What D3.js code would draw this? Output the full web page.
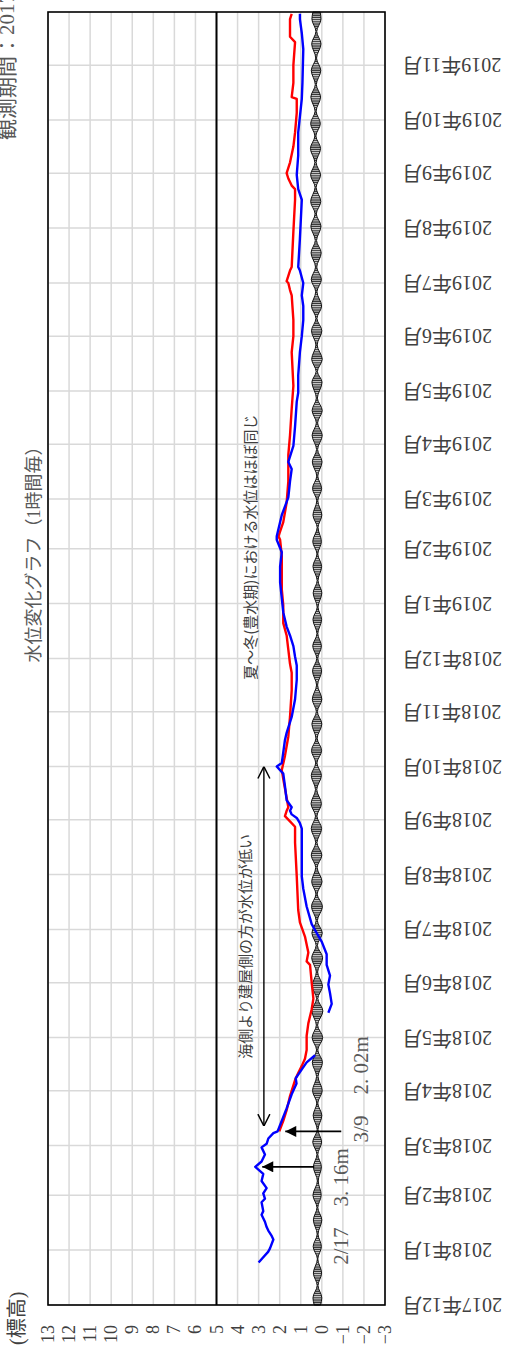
<!DOCTYPE html>
<html>
<head>
<meta charset="utf-8">
<script src="https://cdn.jsdelivr.net/npm/d3@7"></script>
<style>
  html, body { margin: 0; padding: 0; background: #fff; overflow: hidden; }
  svg { display: block; }
</style>
</head>
<body>
<svg id="chart" width="508" height="1349"></svg>
<script>
// ---- data ----------------------------------------------------------------
const monthTicks = ["2017-12-01","2018-01-01","2018-02-01","2018-03-01","2018-04-01","2018-05-01",
  "2018-06-01","2018-07-01","2018-08-01","2018-09-01","2018-10-01","2018-11-01","2018-12-01",
  "2019-01-01","2019-02-01","2019-03-01","2019-04-01","2019-05-01","2019-06-01","2019-07-01",
  "2019-08-01","2019-09-01","2019-10-01","2019-11-01"];
const monthLabels = ["2017年12月","2018年1月","2018年2月","2018年3月","2018年4月","2018年5月",
  "2018年6月","2018年7月","2018年8月","2018年9月","2018年10月","2018年11月","2018年12月",
  "2019年1月","2019年2月","2019年3月","2019年4月","2019年5月","2019年6月","2019年7月",
  "2019年8月","2019年9月","2019年10月","2019年11月"];
const levelTicks = [-3,-2,-1,0,1,2,3,4,5,6,7,8,9,10,11,12,13];
const levelLabels = ["−3","−2","−1","0","1","2","3","4","5","6","7","8","9","10","11","12","13"];
const periodStart = "2017-12-01", periodEnd = "2019-12-01";
const referenceLevel = 5;

// building-side well (blue)
const blueDates = ["2017-12-25","2017-12-28","2017-12-31","2018-01-02","2018-01-07","2018-01-09",
  "2018-01-12","2018-01-14","2018-01-17","2018-01-21","2018-01-23","2018-01-28","2018-01-30",
  "2018-02-02","2018-02-05","2018-02-09","2018-02-13","2018-02-17","2018-02-20","2018-02-24",
  "2018-02-28","2018-03-02","2018-03-05","2018-03-08","2018-03-09","2018-03-15","2018-03-22",
  "2018-03-30","2018-04-05","2018-04-08","2018-04-13","2018-04-17","2018-04-21","2018-05-01",
  "2018-05-15","2018-05-20","2018-05-26","2018-05-31","2018-06-05","2018-06-11","2018-06-17",
  "2018-06-24","2018-06-29","2018-07-04","2018-07-14","2018-07-24","2018-07-31","2018-08-08",
  "2018-08-19","2018-08-27","2018-08-30","2018-09-02","2018-09-04","2018-09-06","2018-09-08",
  "2018-09-12","2018-09-20","2018-09-27","2018-10-01","2018-10-03","2018-10-09","2018-10-16",
  "2018-10-20","2018-10-29","2018-11-08","2018-11-19","2018-11-27","2018-12-02","2018-12-08",
  "2018-12-14","2018-12-19","2018-12-27","2019-01-04","2019-01-13","2019-01-22","2019-01-30",
  "2019-02-06","2019-02-08","2019-02-20","2019-03-02","2019-03-11","2019-03-18","2019-03-22",
  "2019-03-31","2019-04-11","2019-04-25","2019-04-30","2019-05-10","2019-05-23","2019-06-01",
  "2019-06-10","2019-06-18","2019-06-24","2019-07-01","2019-07-08","2019-07-10","2019-07-26",
  "2019-08-17","2019-08-23","2019-08-31","2019-09-11","2019-09-24","2019-10-03","2019-10-13",
  "2019-10-22","2019-11-10","2019-11-19","2019-11-27","2019-11-30"];
const blueValues = [3.00,2.78,2.55,2.46,2.30,2.38,
  2.54,2.62,2.70,2.86,2.78,2.86,2.70,
  2.78,2.62,2.86,2.78,3.16,2.86,2.70,
  2.86,2.62,2.54,2.30,2.10,1.90,1.67,
  1.43,1.20,1.24,0.95,0.72,0.32,null,
  -0.31,-0.47,-0.39,-0.31,-0.39,-0.23,-0.23,
  0.00,0.24,0.48,0.72,0.88,0.95,0.95,
  0.95,0.95,1.04,1.19,1.43,1.51,1.43,
  1.67,1.75,1.83,2.14,1.90,1.83,1.75,
  1.67,1.43,1.27,1.19,1.19,1.27,1.35,
  1.51,1.67,1.83,1.90,1.98,1.98,1.90,
  2.14,2.14,1.90,1.59,1.51,1.43,1.59,
  1.35,1.27,1.19,1.12,1.12,1.04,0.95,
  0.88,0.88,0.95,0.88,1.04,1.12,1.04,
  0.95,1.12,1.19,1.12,1.12,1.04,0.95,
  0.92,0.88,0.95,1.04,1.04];

// sea-side well (red)
const redDates = ["2018-03-09","2018-03-15","2018-03-21","2018-03-29","2018-04-07","2018-04-11",
  "2018-04-15","2018-04-19","2018-04-24","2018-05-02","2018-05-09","2018-05-17","2018-05-23",
  "2018-06-01","2018-06-11","2018-06-13","2018-06-18","2018-06-27","2018-07-05","2018-07-12",
  "2018-07-31","2018-08-19","2018-08-28","2018-09-01","2018-09-03","2018-09-06","2018-09-08",
  "2018-09-24","2018-09-29","2018-10-07","2018-10-18","2018-10-29","2018-11-13","2018-11-23",
  "2018-11-28","2018-12-06","2018-12-14","2018-12-21","2018-12-31","2019-01-09","2019-01-19",
  "2019-01-28","2019-02-06","2019-02-08","2019-02-16","2019-02-27","2019-03-11","2019-03-26",
  "2019-04-06","2019-04-21","2019-05-04","2019-05-23","2019-06-01","2019-06-10","2019-06-24",
  "2019-06-27","2019-07-01","2019-07-02","2019-07-08","2019-07-10","2019-07-30","2019-08-17",
  "2019-08-23","2019-08-25","2019-08-29","2019-09-01","2019-09-07","2019-09-16","2019-09-24",
  "2019-10-05","2019-10-13","2019-10-14","2019-10-22","2019-11-01","2019-11-14","2019-11-17",
  "2019-11-27","2019-11-30"];
const redValues = [2.02,1.83,1.67,1.51,1.27,1.12,
  0.95,0.80,0.72,0.72,0.64,0.48,0.40,
  0.48,0.56,0.72,0.64,0.80,1.04,1.12,
  1.19,1.27,1.27,1.59,1.75,1.67,1.59,
  1.83,1.90,1.75,1.59,1.51,1.43,1.43,
  1.51,1.59,1.67,1.83,1.83,1.90,1.90,
  1.90,1.98,2.06,1.83,1.67,1.59,1.59,
  1.51,1.43,1.35,1.43,1.35,1.35,1.43,
  1.51,1.59,1.67,1.51,1.43,1.35,1.27,
  1.27,1.43,1.59,1.67,1.51,1.35,1.27,
  1.19,1.19,1.43,1.35,1.35,1.27,1.51,
  1.51,1.43];

// tide level (hourly swing shown as its low/high envelope, spring and neap tides)
const tideDates = ["2017-12-01","2017-12-05","2017-12-12","2017-12-19","2017-12-27",
  "2018-01-03","2018-01-10","2018-01-18","2018-01-25","2018-02-01","2018-02-09","2018-02-17","2018-02-24",
  "2018-03-03","2018-03-10","2018-03-18","2018-03-25","2018-04-01","2018-04-09","2018-04-17","2018-04-24",
  "2018-05-01","2018-05-08","2018-05-16","2018-05-23","2018-05-30","2018-06-07","2018-06-15","2018-06-22",
  "2018-06-29","2018-07-06","2018-07-14","2018-07-21","2018-07-28","2018-08-05","2018-08-12","2018-08-19",
  "2018-08-27","2018-09-03","2018-09-10","2018-09-18","2018-09-26","2018-10-03","2018-10-10","2018-10-17",
  "2018-10-25","2018-11-01","2018-11-08","2018-11-16","2018-11-24","2018-12-01","2018-12-08","2018-12-15",
  "2018-12-23","2018-12-30",
  "2019-01-07","2019-01-14","2019-01-22","2019-01-29","2019-02-05","2019-02-13","2019-02-20","2019-02-28",
  "2019-03-07","2019-03-14","2019-03-22","2019-03-29","2019-04-06","2019-04-13","2019-04-20","2019-04-27",
  "2019-05-06","2019-05-12","2019-05-19","2019-05-27","2019-06-04","2019-06-11","2019-06-18","2019-06-26",
  "2019-07-03","2019-07-10","2019-07-18","2019-07-25","2019-08-02","2019-08-09","2019-08-16","2019-08-24",
  "2019-08-31","2019-09-07","2019-09-15","2019-09-22","2019-09-29","2019-10-06","2019-10-14","2019-10-21",
  "2019-10-29","2019-11-05","2019-11-13","2019-11-20","2019-11-27","2019-12-01"];
const tideLow = [0.06,0.00,0.18,0.01,0.19,
  0.02,0.18,0.00,0.19,0.03,0.17,0.02,0.19,
  0.01,0.18,0.00,0.19,-0.02,0.18,-0.03,0.19,
  -0.04,0.20,-0.05,0.19,-0.03,0.20,-0.04,0.21,
  -0.02,0.21,-0.03,0.22,-0.01,0.22,0.00,0.23,
  0.01,0.23,0.02,0.24,0.02,0.23,0.01,0.22,
  0.00,0.21,0.00,0.20,0.01,0.19,0.02,0.19,
  0.01,0.18,
  0.00,0.18,0.01,0.19,0.02,0.18,0.00,0.19,
  0.01,0.19,-0.01,0.20,-0.02,0.20,-0.02,0.21,
  -0.01,0.21,-0.02,0.22,0.00,0.23,0.01,0.23,
  0.02,0.24,0.03,0.25,0.04,0.26,0.05,0.27,
  0.06,0.27,0.06,0.28,0.07,0.27,0.06,0.26,
  0.05,0.25,0.04,0.24,0.04,0.08];
const tideHigh = [0.36,0.42,0.22,0.40,0.21,
  0.41,0.22,0.40,0.23,0.42,0.21,0.40,0.23,
  0.43,0.22,0.41,0.24,0.44,0.25,0.45,0.25,
  0.46,0.26,0.47,0.25,0.46,0.26,0.48,0.27,
  0.47,0.27,0.49,0.28,0.48,0.29,0.50,0.29,
  0.50,0.30,0.51,0.30,0.50,0.29,0.49,0.28,
  0.47,0.26,0.45,0.25,0.44,0.24,0.43,0.23,
  0.42,0.22,
  0.41,0.22,0.42,0.23,0.43,0.22,0.42,0.24,
  0.44,0.24,0.45,0.25,0.46,0.26,0.46,0.26,
  0.47,0.27,0.48,0.28,0.49,0.28,0.49,0.29,
  0.50,0.30,0.51,0.31,0.52,0.32,0.53,0.32,
  0.53,0.33,0.54,0.33,0.53,0.32,0.52,0.31,
  0.50,0.29,0.48,0.28,0.47,0.42];

// callouts
const peakNote = { date: "2018-02-17", value: 3.16, text: "2/17　3. 16m" };
const startNote = { date: "2018-03-09", value: 2.02, text: "3/9　2. 02m" };
const spanStart = "2018-03-12", spanEnd = "2018-10-01", spanLevel = 2.75;
const spanText = "海側より建屋側の方が水位が低い";
const spanTextStart = "2018-04-19";
const sameText = "夏～冬(豊水期)における水位はほぼ同じ";
const sameTextStart = "2018-11-19";
const titleText = "水位変化グラフ（1時間毎）";
const periodText = "観測期間：2017年12月～2019年11月";
const unitText = "(標高)";

// ---- drawing ---------------------------------------------------------------
const parse = d3.timeParse("%Y-%m-%d");
const W = 1349, H = 508;                 // chart is laid out landscape, then turned
const plot = { left: 44, right: 1337, top: 48, bottom: 385 };
const serif = "'Liberation Serif','DejaVu Serif','Noto Sans CJK JP',serif";
const sans = "'Noto Sans CJK JP','Noto Sans',sans-serif";
const ink = "#404040";

const x = d3.scaleTime().domain([parse(periodStart), parse(periodEnd)]).range([plot.left, plot.right]);
const y = d3.scaleLinear().domain([-3, 13]).range([plot.bottom, plot.top]);

const svg = d3.select("#chart");
const defs = svg.append("defs");
const hatch = defs.append("pattern").attr("id", "hatch")
  .attr("patternUnits", "userSpaceOnUse").attr("width", 2.2).attr("height", 8);
hatch.append("rect").attr("width", 2.2).attr("height", 8).attr("fill", "#d4d4d4");
hatch.append("line").attr("x1", 0.6).attr("x2", 0.6).attr("y1", 0).attr("y2", 8)
  .attr("stroke", "#111").attr("stroke-width", 1);

const g = svg.append("g").attr("transform", `translate(0,${W}) rotate(-90)`);

// grid
const grid = g.append("g");
grid.selectAll("line.h").data(levelTicks).join("line")
  .attr("x1", plot.left).attr("x2", plot.right)
  .attr("y1", d => y(d)).attr("y2", d => y(d))
  .attr("stroke", "#d9d9d9").attr("stroke-width", 1.5);
grid.selectAll("line.v").data(monthTicks).join("line")
  .attr("x1", d => x(parse(d))).attr("x2", d => x(parse(d)))
  .attr("y1", plot.top).attr("y2", plot.bottom)
  .attr("stroke", "#d9d9d9").attr("stroke-width", 1.5);

// reference level line
g.append("line")
  .attr("x1", plot.left).attr("x2", plot.right)
  .attr("y1", y(referenceLevel)).attr("y2", y(referenceLevel))
  .attr("stroke", "#000").attr("stroke-width", 2);

// tide band
const tide = tideDates.map((d, i) => ({ date: parse(d), lo: tideLow[i], hi: tideHigh[i] }));
g.append("path").datum(tide)
  .attr("d", d3.area().curve(d3.curveMonotoneX).x(d => x(d.date)).y0(d => y(d.lo)).y1(d => y(d.hi)))
  .attr("fill", "url(#hatch)").attr("stroke", "#111").attr("stroke-width", 1);

// well series
const lineGen = d3.line().defined(d => d.v != null).x(d => x(d.date)).y(d => y(d.v));
const blue = blueDates.map((d, i) => ({ date: parse(d), v: blueValues[i] }));
const red = redDates.map((d, i) => ({ date: parse(d), v: redValues[i] }));
g.append("path").datum(red).attr("d", lineGen)
  .attr("fill", "none").attr("stroke", "#ff0000").attr("stroke-width", 2.4).attr("stroke-linejoin", "round");
g.append("path").datum(blue).attr("d", lineGen)
  .attr("fill", "none").attr("stroke", "#0000ff").attr("stroke-width", 2.4).attr("stroke-linejoin", "round");

// plot frame
g.append("rect").attr("x", plot.left).attr("y", plot.top)
  .attr("width", plot.right - plot.left).attr("height", plot.bottom - plot.top)
  .attr("fill", "none").attr("stroke", "#000").attr("stroke-width", 1.6);

// axis labels
g.selectAll("text.lvl").data(levelTicks).join("text")
  .attr("x", 24).attr("y", d => y(d))
  .attr("text-anchor", "end").attr("dominant-baseline", "central")
  .attr("font-family", serif).attr("font-size", 18).attr("fill", ink)
  .text((d, i) => levelLabels[i]);
g.selectAll("text.mon").data(monthTicks).join("text")
  .attr("transform", d => `translate(${x(parse(d))},402) rotate(-90)`)
  .attr("text-anchor", "end").attr("dominant-baseline", "central")
  .attr("font-family", serif).attr("font-size", 20).attr("fill", ink)
  .text((d, i) => monthLabels[i]);
g.append("text").attr("x", 4).attr("y", 24)
  .attr("font-family", serif).attr("font-size", 20).attr("fill", ink).text(unitText);

// title and observation period
g.append("text").attr("x", 799).attr("y", 40).attr("text-anchor", "middle")
  .attr("font-family", serif).attr("font-size", 18).attr("fill", "#595959").text(titleText);
g.append("text").attr("x", 1209).attr("y", 14)
  .attr("font-family", serif).attr("font-size", 21).attr("fill", "#595959").text(periodText);

// arrows
defs.append("marker").attr("id", "solidHead").attr("viewBox", "0 0 10 10")
  .attr("refX", 10).attr("refY", 5).attr("markerUnits", "userSpaceOnUse")
  .attr("markerWidth", 15).attr("markerHeight", 11).attr("orient", "auto")
  .append("path").attr("d", "M0,0 L10,5 L0,10 Z").attr("fill", "#000");
defs.append("marker").attr("id", "openHead").attr("viewBox", "0 0 10 10")
  .attr("refX", 10).attr("refY", 5).attr("markerUnits", "userSpaceOnUse")
  .attr("markerWidth", 12).attr("markerHeight", 16).attr("orient", "auto-start-reverse")
  .append("path").attr("d", "M0,0 L10,5 L0,10").attr("fill", "none").attr("stroke", "#000").attr("stroke-width", 1.2);

[[peakNote, 59, 7], [startNote, 62, 6]].forEach(([n, tail, gap]) => {
  const px = x(parse(n.date)), py = y(n.value);
  g.append("line").attr("x1", px).attr("x2", px).attr("y1", py + tail).attr("y2", py + gap)
    .attr("stroke", "#000").attr("stroke-width", 1.6).attr("marker-end", "url(#solidHead)");
});
g.append("text").attr("x", x(parse(peakNote.date)) - 98).attr("y", 348)
  .attr("font-family", serif).attr("font-size", 21).attr("fill", "#595959").text(peakNote.text);
g.append("text").attr("x", x(parse(startNote.date)) - 11).attr("y", 368)
  .attr("font-family", serif).attr("font-size", 21).attr("fill", "#595959").text(startNote.text);

g.append("line")
  .attr("x1", x(parse(spanStart))).attr("x2", x(parse(spanEnd)))
  .attr("y1", y(spanLevel)).attr("y2", y(spanLevel))
  .attr("stroke", "#000").attr("stroke-width", 1.4)
  .attr("marker-start", "url(#openHead)").attr("marker-end", "url(#openHead)");

g.append("text").attr("x", x(parse(spanTextStart))).attr("y", 251)
  .attr("font-family", sans).attr("font-size", 15).attr("fill", ink).text(spanText);
g.append("text").attr("x", x(parse(sameTextStart))).attr("y", 256)
  .attr("font-family", sans).attr("font-size", 15).attr("fill", ink).text(sameText);
</script>
</body>
</html>
